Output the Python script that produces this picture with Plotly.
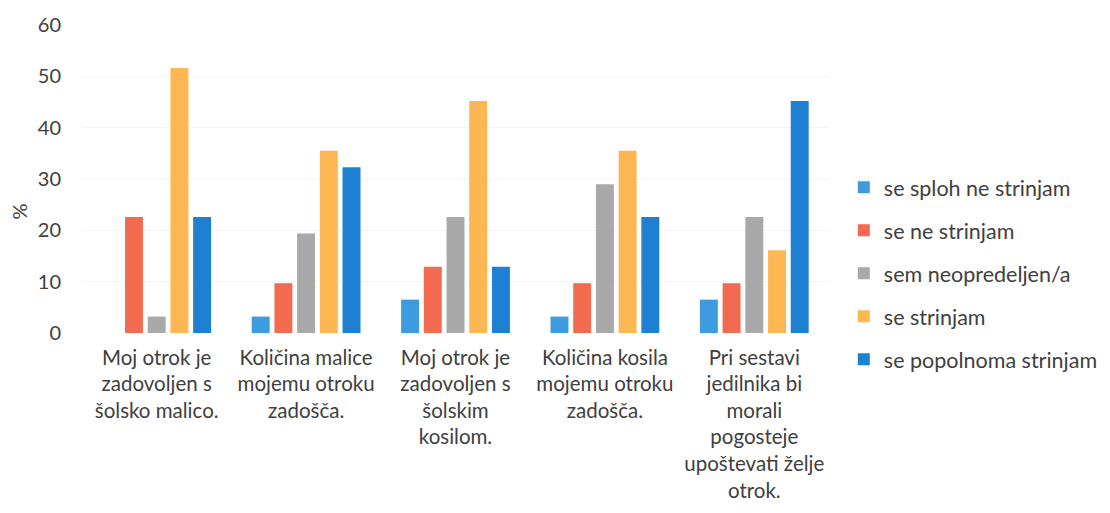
import plotly.graph_objects as go

categories = [
    "Moj otrok je<br>zadovoljen s<br>šolsko malico.",
    "Količina malice<br>mojemu otroku<br>zadošča.",
    "Moj otrok je<br>zadovoljen s<br>šolskim<br>kosilom.",
    "Količina kosila<br>mojemu otroku<br>zadošča.",
    "Pri sestavi<br>jedilnika bi<br>morali<br>pogosteje<br>upoštevati želje<br>otrok.",
]
series_names = ["se sploh ne strinjam", "se ne strinjam", "sem neopredeljen/a",
                "se strinjam", "se popolnoma strinjam"]
se_sploh_ne = [0, 3.2, 6.5, 3.2, 6.5]
se_ne = [22.6, 9.7, 12.9, 9.7, 9.7]
neopredeljen = [3.2, 19.4, 22.6, 29.0, 22.6]
se_strinjam = [51.6, 35.5, 45.2, 35.5, 16.1]
se_popolnoma = [22.6, 32.3, 12.9, 22.6, 45.2]
colors = ["#3d9be0", "#f26b50", "#a9a9a9", "#fcb752", "#1d80d2"]
yticks = [0, 10, 20, 30, 40, 50, 60]

values = [se_sploh_ne, se_ne, neopredeljen, se_strinjam, se_popolnoma]
fig = go.Figure()
for name, vals, col in zip(series_names, values, colors):
    fig.add_trace(go.Bar(x=categories, y=vals, name=name, marker_color=col,
                         marker_line_width=0, legendgroup=name))

font = "Lato, 'Open Sans', sans-serif"
fig.update_layout(
    width=1094, height=497,
    margin=dict(l=74, r=273, t=17, b=172, autoexpand=False),
    paper_bgcolor="white", plot_bgcolor="white",
    barmode="group", bargap=0.24, bargroupgap=0.21,
    font=dict(family=font, color="#404040"),
    xaxis=dict(tickfont=dict(size=20.5, color="#404040"), showline=False,
               ticks="", showgrid=False, automargin=False, ticklabelstandoff=10),
    yaxis=dict(range=[0, 60], tickvals=yticks, showgrid=True, gridcolor="#f3f3f3",
               zeroline=False, tickfont=dict(size=20, color="#404040"),
               ticklabelstandoff=20, automargin=False),
    legend=dict(xref="container", yref="container", x=0.764, y=0.466,
                xanchor="left", yanchor="middle",
                font=dict(size=21.5, color="#404040"), tracegroupgap=12,
                itemwidth=30),
    showlegend=True,
    annotations=[dict(text="%", xref="paper", yref="paper", x=-0.085, y=0.393,
                      xanchor="center", yanchor="middle", textangle=-90,
                      showarrow=False, font=dict(size=20, color="#404040"))],
)
fig.write_html("out.html")
